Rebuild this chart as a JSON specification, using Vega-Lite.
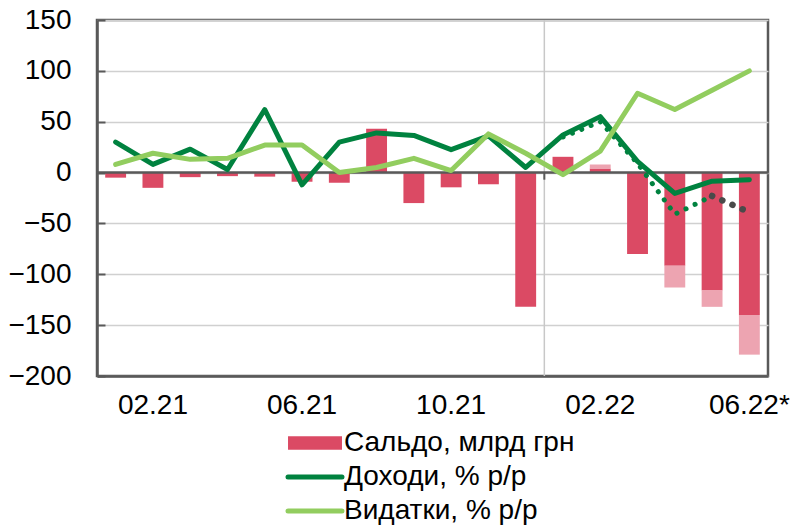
{
  "$schema": "https://vega.github.io/schema/vega-lite/v6.json",
  "width": 671,
  "height": 356,
  "autosize": "none",
  "padding": {"left": 97, "top": 20, "right": 23, "bottom": 149},
  "background": "white",
  "config": {"font": "Liberation Sans", "view": {"stroke": "#595959", "strokeWidth": 2.5}},
  "data": {"values": [
    {"m": "01.21", "saldo": -5, "hatch": null, "doh": 30, "vyd": 8, "dot": null, "gray": null},
    {"m": "02.21", "saldo": -15, "hatch": null, "doh": 8, "vyd": 19, "dot": null, "gray": null},
    {"m": "03.21", "saldo": -4.5, "hatch": null, "doh": 23, "vyd": 13, "dot": null, "gray": null},
    {"m": "04.21", "saldo": -3.5, "hatch": null, "doh": 3, "vyd": 14, "dot": null, "gray": null},
    {"m": "05.21", "saldo": -4, "hatch": null, "doh": 62, "vyd": 27, "dot": null, "gray": null},
    {"m": "06.21", "saldo": -9, "hatch": null, "doh": -12, "vyd": 27, "dot": null, "gray": null},
    {"m": "07.21", "saldo": -10, "hatch": null, "doh": 30, "vyd": 0, "dot": null, "gray": null},
    {"m": "08.21", "saldo": 43, "hatch": null, "doh": 39, "vyd": 5, "dot": null, "gray": null},
    {"m": "09.21", "saldo": -30, "hatch": null, "doh": 36.5, "vyd": 14, "dot": null, "gray": null},
    {"m": "10.21", "saldo": -14.5, "hatch": null, "doh": 22.5, "vyd": 2, "dot": null, "gray": null},
    {"m": "11.21", "saldo": -11.5, "hatch": null, "doh": 36, "vyd": 38, "dot": null, "gray": null},
    {"m": "12.21", "saldo": -132, "hatch": null, "doh": 5, "vyd": 19, "dot": null, "gray": null},
    {"m": "01.22", "saldo": 15.5, "hatch": null, "doh": 37, "vyd": -2, "dot": 35, "gray": null},
    {"m": "02.22", "saldo": 4, "hatch": 8, "doh": 55, "vyd": 21, "dot": 50, "gray": null},
    {"m": "03.22", "saldo": -80, "hatch": null, "doh": 11, "vyd": 78, "dot": 9, "gray": null},
    {"m": "04.22", "saldo": -91.5, "hatch": -113, "doh": -20.5, "vyd": 62, "dot": -41, "gray": null},
    {"m": "05.22", "saldo": -116, "hatch": -132, "doh": -8.5, "vyd": 81, "dot": -23, "gray": -23},
    {"m": "06.22*", "saldo": -140, "hatch": -179, "doh": -7, "vyd": 100, "dot": null, "gray": -39}
  ]},
  "layer": [
    {
      "mark": {"type": "bar", "width": {"band": 0.56}},
      "encoding": {
        "x": {"field": "m", "type": "ordinal", "sort": null,
          "scale": {"paddingInner": 0, "paddingOuter": 0},
          "axis": {"title": null, "labelAngle": 0, "ticks": false, "domainColor": "#595959", "domainWidth": 2.5,
            "labelFontSize": 28, "labelColor": "#000000", "labelPadding": 15, "labelBaseline": "top",
            "labelOverlap": false, "labelBound": false, "grid": false,
            "values": ["02.21", "06.21", "10.21", "02.22", "06.22*"]}},
        "y": {"field": "saldo", "type": "quantitative",
          "scale": {"domain": [-200, 150], "nice": false},
          "axis": {"title": null, "values": [-200, -150, -100, -50, 0, 50, 100, 150],
            "tickSize": -8, "tickColor": "#595959", "tickWidth": 2, "labelPadding": 34,
            "labelFontSize": 28, "labelColor": "#000000", "domainColor": "#595959", "domainWidth": 2.5,
            "grid": true, "gridColor": "#D0D0D0", "gridWidth": 1.5}},
        "color": {"datum": "Сальдо, млрд грн", "type": "nominal",
          "scale": {"domain": ["Сальдо, млрд грн", "Доходи, % р/р", "Видатки, % р/р"], "range": ["#DB4A64", "#00823F", "#92CD5F"]},
          "legend": {"orient": "none", "legendX": 204, "legendY": 409, "direction": "vertical", "title": null,
            "labelFontSize": 28, "labelColor": "#000000", "labelFont": "Liberation Sans", "labelOffset": 15,
            "labelLimit": 0, "rowPadding": 6, "padding": 0, "symbolSize": 182,
            "encode": {"symbols": {"update": {
              "shape": {"signal": "datum.value === 'Сальдо, млрд грн' ? 'M-4,-1H4V1H-4Z' : 'M-4,0H4'"},
              "fill": {"signal": "datum.value === 'Сальдо, млрд грн' ? '#DB4A64' : 'transparent'"},
              "stroke": {"signal": "datum.value === 'Сальдо, млрд грн' ? 'transparent' : (datum.value === 'Доходи, % р/р' ? '#00823F' : '#92CD5F')"},
              "strokeWidth": {"signal": "datum.value === 'Сальдо, млрд грн' ? 0 : 5"},
              "strokeCap": {"value": "round"},
              "opacity": {"value": 1},
              "size": {"value": 182}
            }}}}}
      }
    },
    {
      "transform": [{"filter": "datum.hatch != null"}],
      "mark": {"type": "bar", "width": {"band": 0.56}, "color": "#EDA4B1"},
      "encoding": {
        "x": {"field": "m", "type": "ordinal", "sort": null},
        "y": {"field": "saldo", "type": "quantitative"},
        "y2": {"field": "hatch"}
      }
    },
    {
      "transform": [{"filter": "datum.m === '01.22'"}],
      "mark": {"type": "rule", "color": "#C8C8C8", "strokeWidth": 1.5},
      "encoding": {
        "x": {"field": "m", "type": "ordinal", "sort": null, "bandPosition": 0}
      }
    },
    {
      "transform": [{"filter": "datum.m === '01.22'"}],
      "mark": {"type": "rule", "color": "#595959", "strokeWidth": 2},
      "encoding": {
        "x": {"field": "m", "type": "ordinal", "sort": null, "bandPosition": 0},
        "y": {"datum": 0, "type": "quantitative"},
        "y2": {"datum": -7}
      }
    },
    {
      "transform": [{"filter": "datum.m === '01.21'"}],
      "mark": {"type": "rule", "color": "#595959", "strokeWidth": 2.5},
      "encoding": {
        "y": {"datum": 0, "type": "quantitative"}
      }
    },
    {
      "mark": {"type": "line", "strokeWidth": 5, "strokeCap": "round", "strokeJoin": "round"},
      "encoding": {
        "x": {"field": "m", "type": "ordinal", "sort": null},
        "y": {"field": "doh", "type": "quantitative"},
        "color": {"datum": "Доходи, % р/р", "type": "nominal"}
      }
    },
    {
      "transform": [{"filter": "datum.dot != null"}],
      "mark": {"type": "line", "color": "#00823F", "strokeWidth": 5, "strokeCap": "round", "strokeDash": [0.1, 10]},
      "encoding": {
        "x": {"field": "m", "type": "ordinal", "sort": null},
        "y": {"field": "dot", "type": "quantitative"}
      }
    },
    {
      "transform": [{"filter": "datum.gray != null"}],
      "mark": {"type": "line", "color": "#4A4A4A", "strokeWidth": 6.5, "strokeCap": "round", "strokeDash": [0.1, 11]},
      "encoding": {
        "x": {"field": "m", "type": "ordinal", "sort": null},
        "y": {"field": "gray", "type": "quantitative"}
      }
    },
    {
      "mark": {"type": "line", "strokeWidth": 5, "strokeCap": "round", "strokeJoin": "round"},
      "encoding": {
        "x": {"field": "m", "type": "ordinal", "sort": null},
        "y": {"field": "vyd", "type": "quantitative"},
        "color": {"datum": "Видатки, % р/р", "type": "nominal"}
      }
    }
  ]
}
